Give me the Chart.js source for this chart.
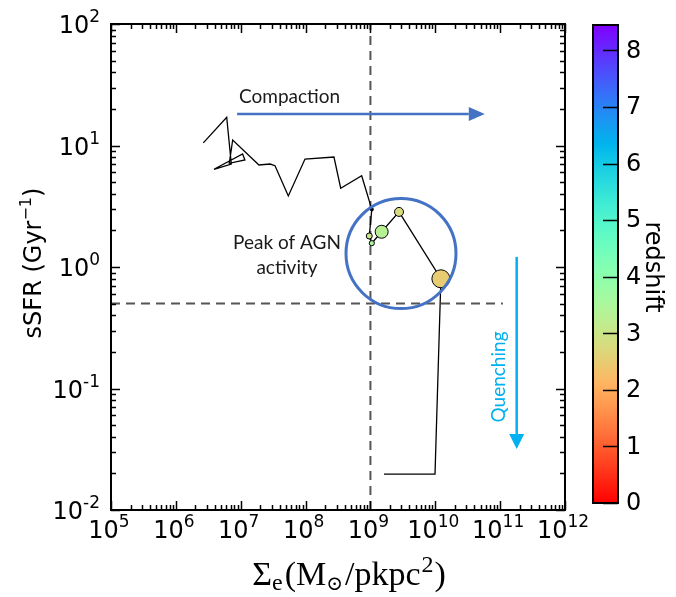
<!DOCTYPE html>
<html>
<head>
<meta charset="utf-8">
<script src="https://cdn.jsdelivr.net/npm/chart.js@4.4.0/dist/chart.umd.min.js"></script>
<style>
  html, body { margin: 0; padding: 0; background: #fff; }
  #wrap { width: 676px; height: 597px; }
</style>
</head>
<body>
<div id="wrap"><canvas id="chart" width="676" height="597"></canvas></div>
<script>
// evolutionary track of the galaxy in the Sigma_e - sSFR plane
const sigmaE = [2.65e6, 6.08e6, 7.16e6, 3.87e6, 1.07e7, 1.16e7, 6.67e6, 7.52e6, 1.91e7, 2.83e7,
                3.38e7, 5.42e7, 9.8e7, 2.74e8, 3.48e8, 7.33e8, 1.05e9, 9.6e8, 1.05e9, 1.49e9,
                2.76e9, 1.22e10, 9.9e9, 1.62e9];
const ssfr = [10.5, 17.1, 7.04, 6.37, 8.51, 7.6, 7.14, 11.1, 6.91, 7.04,
              6.82, 3.84, 7.74, 8.04, 4.45, 5.64, 2.98, 1.80, 1.57, 1.95,
              2.84, 0.80, 0.0197, 0.0197];
// redshift of the snapshots shown with a marker (null = no marker)
const redshift = [null, null, null, null, null, null, null, null, null, null,
                  null, null, null, null, null, null, null, 3.0, 3.5, 3.3,
                  2.8, 2.5, null, null];
const markerSize = [0, 0, 0, 0, 0, 0, 0, 0, 0, 0,
                    0, 0, 0, 0, 0, 0, 1.6, 3, 2.6, 6.5,
                    4.5, 9, 0, 0];

// threshold lines
const sigmaCut = 1e9;
const ssfrCut = 0.5;

// axis ranges and tick labels
const xExp = [5, 6, 7, 8, 9, 10, 11, 12];
const yExp = [-2, -1, 0, 1, 2];
const zTicks = [0, 1, 2, 3, 4, 5, 6, 7, 8];
const Z_MAX = 8.45;

// matplotlib "rainbow", reversed so that z = 0 is red
function rainbow(z) {
  const t = 1 - z / Z_MAX;
  const r = Math.min(1, Math.abs(2 * t - 0.5));
  const g = Math.sin(Math.PI * t);
  const b = Math.cos(Math.PI * t / 2);
  return `rgb(${Math.round(r * 255)},${Math.round(g * 255)},${Math.round(b * 255)})`;
}

const pointColors = redshift.map(z => z === null ? '#000' : rainbow(z));

// draws a string made of pieces with their own size / baseline shift
function drawRich(ctx, parts, x, y, align) {
  let w = 0;
  parts.forEach(p => {
    ctx.font = p.size + 'px ' + p.family;
    p.w = ctx.measureText(p.t).width;
    w += p.w + (p.gap || 0);
  });
  let cx = align === 'center' ? x - w / 2 : align === 'right' ? x - w : x;
  ctx.textAlign = 'left';
  ctx.textBaseline = 'alphabetic';
  parts.forEach(p => {
    ctx.font = p.size + 'px ' + p.family;
    ctx.fillText(p.t, cx, y + (p.dy || 0));
    cx += p.w + (p.gap || 0);
  });
}

function powerLabel(e) {
  return [
    { t: '10', size: 24, family: '"DejaVu Sans"' },
    { t: String(e), size: 17, family: '"DejaVu Sans"', dy: -11 }
  ];
}

function arrow(ctx, x0, y0, x1, y1, color, lw, headLen, headW) {
  const a = Math.atan2(y1 - y0, x1 - x0);
  ctx.save();
  ctx.strokeStyle = color;
  ctx.fillStyle = color;
  ctx.lineWidth = lw;
  ctx.beginPath();
  ctx.moveTo(x0, y0);
  ctx.lineTo(x1 - headLen * Math.cos(a), y1 - headLen * Math.sin(a));
  ctx.stroke();
  ctx.translate(x1, y1);
  ctx.rotate(a);
  ctx.beginPath();
  ctx.moveTo(0, 0);
  ctx.lineTo(-headLen, -headW / 2);
  ctx.lineTo(-headLen, headW / 2);
  ctx.closePath();
  ctx.fill();
  ctx.restore();
}

const decorations = {
  id: 'decorations',
  afterDatasetsDraw(chart) {
    const ctx = chart.ctx;
    const a = chart.chartArea;
    const xs = chart.scales.x;
    const ys = chart.scales.y;
    ctx.save();

    // annotation: circle around the AGN peak
    ctx.strokeStyle = '#4472C4';
    ctx.lineWidth = 3;
    ctx.beginPath();
    ctx.arc(xs.getPixelForValue(2.96e9), ys.getPixelForValue(1.29), 55, 0, Math.PI * 2);
    ctx.stroke();

    ctx.fillStyle = '#1a1a1a';
    ctx.font = '19px Lato';
    ctx.textAlign = 'center';
    ctx.textBaseline = 'alphabetic';
    ctx.fillText('Peak of AGN', 287, 249);
    ctx.fillText('activity', 287, 274);

    // compaction arrow
    const cy = ys.getPixelForValue(18.2);
    arrow(ctx, xs.getPixelForValue(8.8e6), cy, xs.getPixelForValue(5.8e10), cy, '#4472C4', 2.5, 16, 14);
    ctx.fillStyle = '#1a1a1a';
    ctx.font = '19px Lato';
    ctx.textAlign = 'left';
    ctx.fillText('Compaction', 239, 103);

    // quenching arrow
    const qx = xs.getPixelForValue(1.8e11);
    arrow(ctx, qx, ys.getPixelForValue(1.21), qx, ys.getPixelForValue(0.0318), '#00B0F0', 2.5, 15, 15);
    ctx.save();
    ctx.translate(505, 377);
    ctx.rotate(-Math.PI / 2);
    ctx.fillStyle = '#00B0F0';
    ctx.font = '19px Lato';
    ctx.textAlign = 'center';
    ctx.fillText('Quenching', 0, 0);
    ctx.restore();

    // frame
    ctx.strokeStyle = '#000';
    ctx.lineWidth = 2;
    ctx.strokeRect(a.left, a.top, a.right - a.left, a.bottom - a.top);

    // inward ticks on all four sides
    ctx.lineWidth = 1.5;
    ctx.beginPath();
    for (let e = xExp[0]; e <= xExp[xExp.length - 1]; e++) {
      for (let m = 1; m <= 9; m++) {
        const v = m * Math.pow(10, e);
        if (v > xs.max * 1.0001) break;
        const p = Math.round(xs.getPixelForValue(v)) + 0.5;
        const len = m === 1 ? 9 : 5;
        ctx.moveTo(p, a.bottom); ctx.lineTo(p, a.bottom - len);
        ctx.moveTo(p, a.top); ctx.lineTo(p, a.top + len);
      }
    }
    for (let e = yExp[0]; e <= yExp[yExp.length - 1]; e++) {
      for (let m = 1; m <= 9; m++) {
        const v = m * Math.pow(10, e);
        if (v > ys.max * 1.0001) break;
        const p = Math.round(ys.getPixelForValue(v)) + 0.5;
        const len = m === 1 ? 9 : 5;
        ctx.moveTo(a.left, p); ctx.lineTo(a.left + len, p);
        ctx.moveTo(a.right, p); ctx.lineTo(a.right - len, p);
      }
    }
    ctx.stroke();

    // tick labels
    ctx.fillStyle = '#000';
    xExp.forEach(e => drawRich(ctx, powerLabel(e), xs.getPixelForValue(Math.pow(10, e)) - 2, 538, 'center'));
    yExp.forEach(e => drawRich(ctx, powerLabel(e), 100, ys.getPixelForValue(Math.pow(10, e)) + 9, 'right'));

    // axis titles
    drawRich(ctx, [
      { t: 'Σ', size: 34, family: '"Liberation Serif"' },
      { t: 'e', size: 24, family: '"Liberation Serif"', dy: 5, gap: 2 },
      { t: '(M', size: 34, family: '"Liberation Serif"' },
      { t: '⊙', size: 20, family: '"DejaVu Serif"', dy: 5, gap: 2 },
      { t: '/pkpc', size: 34, family: '"Liberation Serif"', gap: 1 },
      { t: '2', size: 24, family: '"Liberation Serif"', dy: -13, gap: 1 },
      { t: ')', size: 34, family: '"Liberation Serif"' }
    ], 349, 585, 'center');

    ctx.save();
    ctx.translate(41, 263);
    ctx.rotate(-Math.PI / 2);
    drawRich(ctx, [
      { t: 'sSFR (Gyr', size: 24, family: '"DejaVu Sans"' },
      { t: '−1', size: 16, family: '"DejaVu Sans"', dy: -10 },
      { t: ')', size: 24, family: '"DejaVu Sans"' }
    ], 0, 0, 'center');
    ctx.restore();

    // colour bar for redshift
    const bx = 593, bw = 25, bTop = 25, bBot = 503;
    const zPix = z => bBot - (bBot - bTop) * z / Z_MAX;
    const grad = ctx.createLinearGradient(0, bBot, 0, bTop);
    for (let i = 0; i <= 40; i++) {
      grad.addColorStop(i / 40, rainbow(Z_MAX * i / 40));
    }
    ctx.fillStyle = grad;
    ctx.fillRect(bx, bTop, bw, bBot - bTop);
    ctx.strokeStyle = '#000';
    ctx.lineWidth = 2;
    ctx.strokeRect(bx, bTop, bw, bBot - bTop);
    ctx.lineWidth = 1.5;
    ctx.beginPath();
    zTicks.forEach(z => {
      const p = Math.round(zPix(z)) + 0.5;
      ctx.moveTo(bx + bw, p);
      ctx.lineTo(bx + bw - 15, p);
    });
    ctx.stroke();
    ctx.fillStyle = '#000';
    ctx.font = '24px "DejaVu Sans"';
    ctx.textAlign = 'left';
    ctx.textBaseline = 'middle';
    zTicks.forEach(z => ctx.fillText(String(z), 626, zPix(z) + 1));

    ctx.save();
    ctx.translate(646, 267);
    ctx.rotate(Math.PI / 2);
    ctx.textAlign = 'center';
    ctx.textBaseline = 'alphabetic';
    ctx.font = '24px "DejaVu Sans"';
    ctx.fillText('redshift', 0, 0);
    ctx.restore();

    ctx.restore();
  }
};

const ctx = document.getElementById('chart').getContext('2d');
new Chart(ctx, {
  type: 'scatter',
  data: {
    datasets: [
      {
        label: 'track',
        data: sigmaE.map((x, i) => ({ x: x, y: ssfr[i] })),
        showLine: true,
        borderColor: '#000',
        borderWidth: 1.3,
        pointRadius: markerSize,
        pointBackgroundColor: pointColors,
        pointBorderColor: '#000',
        pointBorderWidth: 1,
        order: 0
      },
      {
        label: 'sigma cut',
        data: [{ x: sigmaCut, y: 1e-2 }, { x: sigmaCut, y: 1e2 }],
        showLine: true,
        borderColor: '#555',
        borderWidth: 2,
        borderDash: [9, 6],
        pointRadius: 0,
        order: 1
      },
      {
        label: 'ssfr cut',
        data: [{ x: 1e5, y: ssfrCut }, { x: 1.1e11, y: ssfrCut }],
        showLine: true,
        borderColor: '#555',
        borderWidth: 2,
        borderDash: [9, 6],
        pointRadius: 0,
        order: 1
      }
    ]
  },
  options: {
    responsive: false,
    animation: false,
    layout: { padding: { top: 24, right: 111, left: 0, bottom: 0 } },
    plugins: { legend: { display: false }, tooltip: { enabled: false } },
    scales: {
      x: {
        type: 'logarithmic',
        min: 1e5,
        max: 1e12,
        grid: { display: false },
        border: { display: false },
        ticks: { display: false },
        afterFit: s => { s.height = 87; }
      },
      y: {
        type: 'logarithmic',
        min: 1e-2,
        max: 1e2,
        grid: { display: false },
        border: { display: false },
        ticks: { display: false },
        afterFit: s => { s.width = 111; }
      }
    }
  },
  plugins: [decorations]
});
</script>
</body>
</html>
